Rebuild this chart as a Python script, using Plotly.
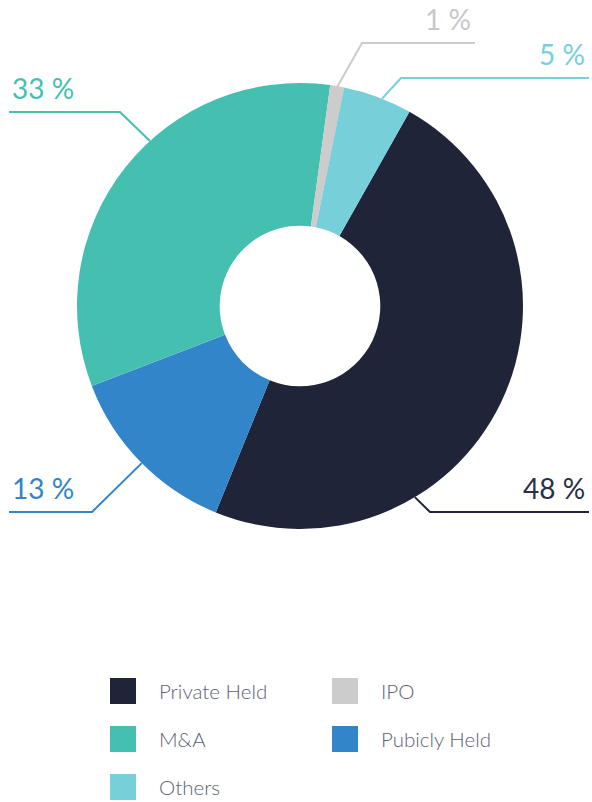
import math
import plotly.graph_objects as go

# ---- data ----
labels = ["Private Held", "Pubicly Held", "M&A", "IPO", "Others"]
values = [48, 13, 33, 1, 5]
colors = ["#1f2439", "#3285c8", "#45bfb0", "#cccccc", "#76cfd9"]
text_colors = ["#2a2f45", "#3285c8", "#45bfb0", "#c8c8c8", "#76cfd9"]
legend_order = ["Private Held", "IPO", "M&A", "Pubicly Held", "Others"]

# ---- layout constants (pixels) ----
W, H = 592, 802
CX, CY, R = 300, 306, 223
HOLE = 0.36
ROTATION = 29.4

def px(x):
    return x / W

def py(y):
    return 1 - y / H

# leader line geometry per label: rim angle (deg clockwise from 12 o'clock), elbow, end x, text side
leaders = {
    "Private Held": (149.0, (430, 512), 589, "right"),
    "Pubicly Held": (225.2, (92, 512), 9, "left"),
    "M&A": (317.7, (120, 112), 9, "left"),
    "IPO": (9.7, (362, 43), 475, "right"),
    "Others": (21.6, (401, 78), 589, "right"),
}

fig = go.Figure()
fig.add_trace(go.Pie(
    labels=labels, values=values, sort=False, direction="clockwise",
    rotation=ROTATION, hole=HOLE, textinfo="none", showlegend=False,
    marker=dict(colors=colors, line=dict(width=0)),
    domain=dict(x=[px(CX - R), px(CX + R)], y=[py(CY + R), py(CY - R)]),
    hoverinfo="label+percent",
))

shapes = []
annotations = []
total = sum(values)
for lab, val, col, tcol in zip(labels, values, colors, text_colors):
    ang, (ex, ey), endx, side = leaders[lab]
    a = math.radians(ang)
    sx = CX + R * math.sin(a)
    sy = CY - R * math.cos(a)
    path = f"M {px(sx)},{py(sy)} L {px(ex)},{py(ey)} L {px(endx)},{py(ey)}"
    shapes.append(dict(type="path", xref="paper", yref="paper", path=path,
                       line=dict(color=col, width=2)))
    pct = round(val / total * 100)
    annotations.append(dict(
        text=f"{pct} %", xref="paper", yref="paper",
        x=px(endx + (-2 if side == "right" else 1)), y=py(ey - 5),
        xanchor=side, yanchor="bottom", showarrow=False,
        font=dict(family="Lato", size=28, color=tcol, weight=400),
    ))

# manual legend
col_x = [110, 332]
row_y = [691, 739, 787]
SQ = 26
for i, lab in enumerate(legend_order):
    c = colors[labels.index(lab)]
    x0 = col_x[i % 2]
    yc = row_y[i // 2]
    shapes.append(dict(type="rect", xref="paper", yref="paper",
                       x0=px(x0), x1=px(x0 + SQ), y0=py(yc + SQ / 2), y1=py(yc - SQ / 2),
                       fillcolor=c, line=dict(width=0)))
    annotations.append(dict(
        text=lab, xref="paper", yref="paper", x=px(x0 + 47), y=py(yc),
        xanchor="left", yanchor="middle", showarrow=False,
        font=dict(family="Lato", size=20.5, color="#5e6273", weight=300),
    ))

fig.update_layout(
    width=W, height=H, margin=dict(l=0, r=0, t=0, b=0),
    paper_bgcolor="white", plot_bgcolor="white",
    shapes=shapes, annotations=annotations, showlegend=False,
)
fig.write_html("out.html", config={"displayModeBar": False},
               post_script="document.body.style.margin='0';document.body.style.overflow='hidden';")
